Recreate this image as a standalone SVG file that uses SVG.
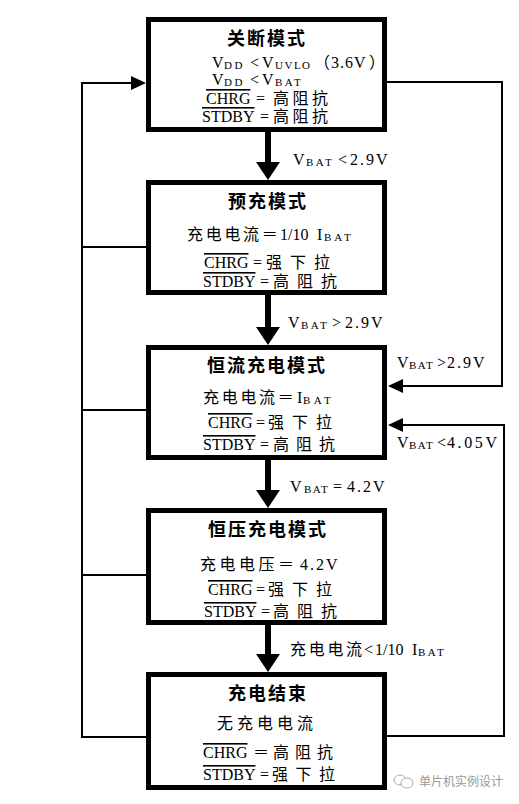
<svg xmlns="http://www.w3.org/2000/svg" width="519" height="804" viewBox="0 0 519 804">
<defs>
<style>
.box{fill:#fff;stroke:#000;stroke-width:5}
.thin{fill:none;stroke:#000;stroke-width:2}
.thick{fill:none;stroke:#000;stroke-width:6}
text{font-family:'Liberation Serif','Noto Sans CJK SC',serif;font-size:16px;fill:#000}
.title{font-family:'Noto Sans CJK SC',sans-serif;font-weight:bold;font-size:18px;letter-spacing:2px}
.s{font-size:11px;letter-spacing:2.5px}
.s2{font-size:11px;letter-spacing:1.5px}
.d{letter-spacing:2px}
.ov{text-decoration:overline}
.wm{font-family:'Noto Sans CJK SC',sans-serif;font-size:12px;fill:#999}
</style>
<marker id="ahThick" viewBox="0 0 18 24" markerWidth="18" markerHeight="24" refX="10" refY="12" orient="auto" markerUnits="userSpaceOnUse">
<path d="M0,0 L18,12 L0,24 Z" fill="#000"/>
</marker>
<marker id="ahThin" viewBox="0 0 15 14" markerWidth="15" markerHeight="14" refX="13" refY="7" orient="auto" markerUnits="userSpaceOnUse">
<path d="M0,0 L15,7 L0,14 Z" fill="#000"/>
</marker>
</defs>
<rect width="519" height="804" fill="#fff"/>

<g id="connectors">
<path class="thin" d="M146,737 H82 V83 H144" marker-end="url(#ahThin)"/>
<path class="thin" d="M146,247 H82"/>
<path class="thin" d="M146,410 H82"/>
<path class="thin" d="M146,575 H82"/>
<path class="thin" d="M387,82 H502 V386 H390" marker-end="url(#ahThin)"/>
<path class="thin" d="M387,736 H504 V425 H390" marker-end="url(#ahThin)"/>
<path class="thick" d="M268,132 V172" marker-end="url(#ahThick)"/>
<path class="thick" d="M268,295 V337" marker-end="url(#ahThick)"/>
<path class="thick" d="M268,460 V500" marker-end="url(#ahThick)"/>
<path class="thick" d="M268,625 V664" marker-end="url(#ahThick)"/>
<text x="293" y="165">V<tspan class="s" x="306" y="166">BAT</tspan><tspan x="338" y="165">&lt;</tspan><tspan class="d" x="350">2.9V</tspan></text>
<text x="288" y="328">V<tspan class="s" x="301" y="329">BAT</tspan><tspan x="332" y="328">&gt;</tspan><tspan class="d" x="345">2.9V</tspan></text>
<text x="397" y="368">V<tspan class="s2" x="409" y="369">BAT</tspan><tspan x="437" y="368">&gt;</tspan><tspan class="d" x="447">2.9V</tspan></text>
<text x="397" y="448">V<tspan class="s2" x="409" y="449">BAT</tspan><tspan x="437" y="448">&lt;</tspan><tspan x="447" style="letter-spacing:2.6px">4.05V</tspan></text>
<text x="290" y="492">V<tspan class="s2" x="304" y="493">BAT</tspan><tspan x="333" y="492">=</tspan><tspan class="d" x="347">4.2V</tspan></text>
<text x="290" y="655"><tspan style="letter-spacing:2.7px">充电电流</tspan><tspan x="364">&lt;</tspan><tspan x="375">1/10</tspan><tspan x="412">I</tspan><tspan class="s" x="418" y="656">BAT</tspan></text>
</g>

<g id="node-shutdown">
<rect class="box" x="148.5" y="19.5" width="236" height="110"/>
<text class="title" x="227" y="45">关断模式</text>
<text x="212" y="68">V<tspan class="s" x="224" y="69">DD</tspan><tspan x="250" y="68">&lt;</tspan><tspan x="262">V</tspan><tspan class="s2" x="275" y="69">UVLO</tspan><tspan x="314" y="68">（</tspan><tspan x="331" style="letter-spacing:1px">3.6V</tspan><tspan x="369">）</tspan></text>
<text x="212" y="85">V<tspan class="s" x="224" y="86">DD</tspan><tspan x="250" y="85">&lt;</tspan><tspan x="262">V</tspan><tspan class="s" x="275" y="86">BAT</tspan></text>
<text x="206" y="104"><tspan class="ov">CHRG</tspan><tspan x="256">=</tspan><tspan x="273" style="letter-spacing:3.5px">高阻抗</tspan></text>
<text x="202" y="122"><tspan class="ov">STDBY</tspan><tspan x="260">=</tspan><tspan x="273" style="letter-spacing:3.5px">高阻抗</tspan></text>
</g>

<g id="node-precharge">
<rect class="box" x="148.5" y="182.5" width="236" height="110"/>
<text class="title" x="228" y="208">预充模式</text>
<text x="187" y="240"><tspan style="letter-spacing:2.7px">充电电流＝</tspan><tspan x="280">1/10</tspan><tspan x="317">I</tspan><tspan class="s" x="324" y="241" style="letter-spacing:3px">BAT</tspan></text>
<text x="204" y="268"><tspan class="ov">CHRG</tspan><tspan x="253">=</tspan><tspan x="266" style="letter-spacing:8px">强下拉</tspan></text>
<text x="203" y="287"><tspan class="ov">STDBY</tspan><tspan x="260">=</tspan><tspan x="273" style="letter-spacing:8px">高阻抗</tspan></text>
</g>

<g id="node-cc">
<rect class="box" x="148.5" y="347.5" width="236" height="110"/>
<text class="title" x="207" y="372">恒流充电模式</text>
<text x="203" y="403"><tspan style="letter-spacing:2.7px">充电电流＝</tspan><tspan x="297">I</tspan><tspan class="s" x="303" y="404" style="letter-spacing:3.5px">BAT</tspan></text>
<text x="208" y="428"><tspan class="ov">CHRG</tspan><tspan x="256">=</tspan><tspan x="268" style="letter-spacing:8px">强下拉</tspan></text>
<text x="203" y="450"><tspan class="ov">STDBY</tspan><tspan x="260">=</tspan><tspan x="273" style="letter-spacing:7px">高阻抗</tspan></text>
</g>

<g id="node-cv">
<rect class="box" x="148.5" y="510.5" width="236" height="112"/>
<text class="title" x="208" y="536">恒压充电模式</text>
<text x="200" y="570"><tspan style="letter-spacing:3.5px">充电电压＝</tspan><tspan class="d" x="300">4.2V</tspan></text>
<text x="208" y="595"><tspan class="ov">CHRG</tspan><tspan x="256">=</tspan><tspan x="268" style="letter-spacing:8px">强下拉</tspan></text>
<text x="204" y="617"><tspan class="ov">STDBY</tspan><tspan x="261">=</tspan><tspan x="273" style="letter-spacing:8px">高阻抗</tspan></text>
</g>

<g id="node-done">
<rect class="box" x="148.5" y="674.5" width="236" height="113"/>
<text class="title" x="228" y="700">充电结束</text>
<text x="217" y="729" style="letter-spacing:4px">无充电电流</text>
<text x="203" y="758"><tspan class="ov">CHRG</tspan><tspan x="253">＝</tspan><tspan x="273" style="letter-spacing:6px">高阻抗</tspan></text>
<text x="203" y="780"><tspan class="ov">STDBY</tspan><tspan x="260">=</tspan><tspan x="272" style="letter-spacing:7.5px">强下拉</tspan></text>
</g>

<g id="watermark">
<ellipse cx="400" cy="780" rx="6" ry="5" fill="#fff" stroke="#aaa" stroke-width="1"/>
<ellipse cx="407" cy="783" rx="6" ry="5" fill="#fff" stroke="#aaa" stroke-width="1"/>
<text class="wm" x="419" y="786" textLength="84">单片机实例设计</text>
</g>
</svg>
